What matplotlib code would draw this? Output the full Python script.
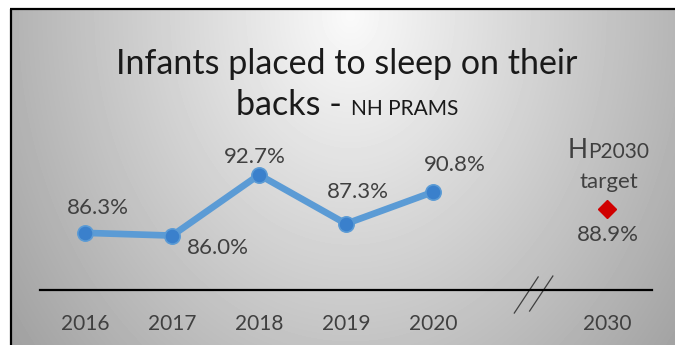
import numpy as np
import matplotlib
matplotlib.use('Agg')
import matplotlib.pyplot as plt

plt.rcParams['font.family'] = ['Lato', 'DejaVu Sans']

# 数据
years = ['2016', '2017', '2018', '2019', '2020']
pct = [86.3, 86.0, 92.7, 87.3, 90.8]
target_year = '2030'
target = 88.9
title_main = 'Infants placed to sleep on their'
title_sub = 'backs -'
title_src = 'NH PRAMS'

text_color = '#404040'
line_color = '#5B9BD5'
dot_color = '#3A80CC'

fig = plt.figure(figsize=(6.75, 3.45), dpi=100)

# 背景: 像素坐标
bg = fig.add_axes([0, 0, 1, 1])
bg.set_xlim(0, 675)
bg.set_ylim(345, 0)
bg.axis('off')
yy, xx = np.mgrid[10:345, 12:675]
r = np.hypot((xx - 350) * 0.21, (yy - 15) * 0.165)
shade = np.clip(250 - r, 0, 255) / 255
bg.imshow(shade, cmap='gray', vmin=0, vmax=1, extent=(12, 675, 345, 10),
          aspect='auto', interpolation='bilinear')
bg.plot([11, 11], [345, 9], color='black', lw=1.6, solid_capstyle='butt')
bg.plot([10, 675], [9, 9], color='black', lw=1.6, solid_capstyle='butt')

renderer = fig.canvas.get_renderer()


def parts_centered(x, y, parts, gap=0):
    # parts: [(文字, 字号)]，整体水平居中
    texts = [bg.text(0, y, s, fontsize=fs, color='#1a1a1a', va='baseline', ha='left')
             for s, fs in parts]
    widths = [t.get_window_extent(renderer).width for t in texts]
    start = x - (sum(widths) + gap * (len(parts) - 1)) / 2
    for t, w in zip(texts, widths):
        t.set_x(start)
        start += w + gap


bg.text(347, 74, title_main, fontsize=24.5, color='#1a1a1a', ha='center', va='baseline')
parts_centered(347, 115, [(title_sub, 24.5), (title_src, 15)], gap=9)

# 折线图
ax = fig.add_axes([40 / 675, 55 / 345, 612 / 675, 181.4 / 345])
ax.patch.set_alpha(0)
xs = list(range(len(years)))
ax.plot(xs, pct, color=line_color, lw=4.8, marker='o', ms=11,
        mfc=dot_color, mec=line_color, mew=1.2, zorder=3)
ax.plot([6], [target], marker='D', ms=9, color='#D00000', ls='none', zorder=3)

offsets = [(12.5, 24.5), (46, -12), (-4, 17.5), (12, 31.5), (21.5, 27)]
for x, v, (dx, dy) in zip(xs, pct, offsets):
    ax.annotate(f'{v:.1f}%', (x, v), xytext=(dx * 0.72, dy * 0.72),
                textcoords='offset points', ha='center', va='center',
                fontsize=16, color=text_color)
ax.annotate(f'{target:.1f}%', (6, target), xytext=(1, -26 * 0.72),
            textcoords='offset points', ha='center', va='center',
            fontsize=16, color=text_color)
ax.annotate('target', (6, target), xytext=(2 * 0.72, 27 * 0.72),
            textcoords='offset points', ha='center', va='center',
            fontsize=16, color=text_color)
ax.annotate('H', (6, target), xytext=(-19 * 0.72, 51 * 0.72),
            textcoords='offset points', ha='right', va='baseline',
            fontsize=19, color=text_color)
ax.annotate('P2030', (6, target), xytext=(-19 * 0.72, 51 * 0.72),
            textcoords='offset points', ha='left', va='baseline',
            fontsize=15, color=text_color)

ax.set_xlim(-0.52, 6.52)
ax.set_ylim(80, 100)
ax.set_xticks(xs + [6])
ax.set_xticklabels(years + [target_year], fontsize=15, color=text_color)
ax.set_yticks([])
ax.tick_params(axis='x', length=0, pad=17)
for side in ['top', 'left', 'right']:
    ax.spines[side].set_visible(False)
ax.spines['bottom'].set_linewidth(1.6)
ax.spines['bottom'].set_color('black')

# 轴线断开符号 //
ax.plot([0.775, 0.814], [-0.127, 0.072], color='#404040', lw=0.9,
        transform=ax.transAxes, clip_on=False)
ax.plot([0.800, 0.838], [-0.116, 0.077], color='#404040', lw=0.9,
        transform=ax.transAxes, clip_on=False)

fig.savefig('out.png', dpi=100)
